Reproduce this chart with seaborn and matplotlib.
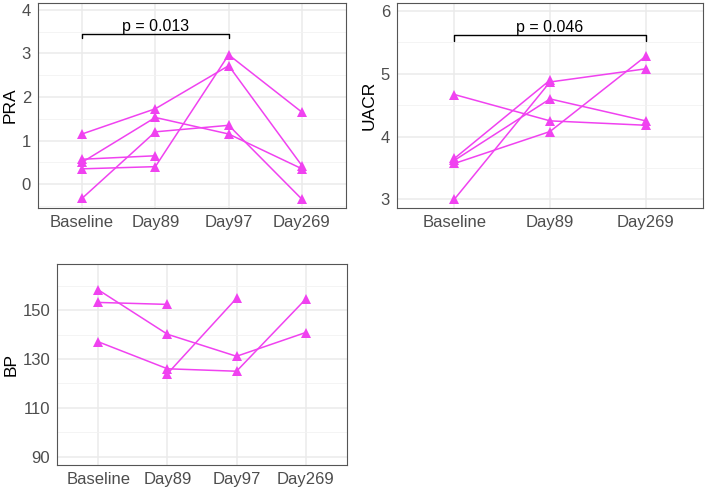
import numpy as np
import pandas as pd
import seaborn as sns
import matplotlib
matplotlib.use("Agg")
import matplotlib.pyplot as plt
from matplotlib.ticker import MultipleLocator

# ---- data ----
pra_times = ["Baseline", "Day89", "Day97", "Day269"]
pra_values = {
    "A": [1.15, 1.73, 2.72, 0.42],
    "B": [0.50, 1.53, 1.15, 0.35],
    "C": [0.35, 0.40, 2.97, 1.65],
    "D": [0.57, 0.65, np.nan, np.nan],
    "E": [-0.33, 1.20, 1.35, -0.35],
}
pra_p_label = "p = 0.013"
pra_p_pair = ("Baseline", "Day97")
pra_p_y = 3.45

uacr_times = ["Baseline", "Day89", "Day269"]
uacr_values = {
    "A": [4.67, 4.25, 4.18],
    "B": [3.00, 4.87, 5.08],
    "C": [3.65, 4.90, np.nan],
    "D": [3.62, 4.60, 4.25],
    "E": [3.57, 4.08, 5.28],
}
uacr_p_label = "p = 0.046"
uacr_p_pair = ("Baseline", "Day269")
uacr_p_y = 5.62

bp_times = ["Baseline", "Day89", "Day97", "Day269"]
bp_values = {
    "A": [153.1, 152.3, np.nan, np.nan],
    "B": [158.2, 140.1, 131.1, 140.8],
    "C": [137.0, 126.0, 125.0, 154.4],
    "D": [np.nan, 124.0, 154.8, np.nan],
}

COLOR = "#F042F0"


def to_long(times, values):
    rows = []
    for i, t in enumerate(times):
        for subj, vals in values.items():
            rows.append({"time": t, "subject": subj, "value": vals[i]})
    return pd.DataFrame(rows).dropna()


def style_axis(ax, ylabel, yticks, yminor, ylim, ncat):
    ax.set_xlim(-0.6, ncat - 1 + 0.6)
    ax.set_ylim(*ylim)
    ax.set_yticks(yticks)
    ax.yaxis.set_minor_locator(MultipleLocator(yminor))
    ax.set_xlabel("")
    ax.set_ylabel(ylabel, fontsize=12.5, color="black", labelpad=3)
    ax.set_facecolor("white")
    ax.grid(True, which="major", color="#EBEBEB", lw=1.1)
    ax.grid(True, which="minor", axis="y", color="#F2F2F2", lw=0.6)
    ax.set_axisbelow(True)
    for s in ax.spines.values():
        s.set_color("#555555")
        s.set_linewidth(0.8)
    ax.tick_params(axis="both", which="major", length=3, width=0.8, color="#333333",
                   labelsize=12, labelcolor="#4D4D4D", pad=2)
    ax.tick_params(axis="y", which="minor", length=0)
    if ax.get_legend():
        ax.get_legend().remove()


def bracket(ax, times, pair, y, label, drop):
    x0, x1 = times.index(pair[0]), times.index(pair[1])
    ax.plot([x0, x0, x1, x1], [y - drop, y, y, y - drop], color="black", lw=1.0)
    ax.text((x0 + x1) / 2, y, label, ha="center", va="bottom", fontsize=11.5, color="black")


def draw(ax, times, values):
    df = to_long(times, values)
    sns.lineplot(data=df, x="time", y="value", units="subject", estimator=None,
                 sort=False, color=COLOR, lw=1.1, marker="^", markersize=7.5,
                 markeredgewidth=0, markerfacecolor=COLOR, ax=ax, legend=False)


sns.set_theme(style="white")
plt.rcParams["font.family"] = ["Liberation Sans", "DejaVu Sans"]

fig = plt.figure(figsize=(7.09, 4.91), dpi=100)
W, H = 709, 491


def add_px(left, top, right, bottom):
    return fig.add_axes([left / W, 1 - bottom / H, (right - left) / W, (bottom - top) / H])


ax1 = add_px(38, 3, 346, 208)
draw(ax1, pra_times, pra_values)
style_axis(ax1, "PRA", [0, 1, 2, 3, 4], 0.5, (-0.55, 4.16), len(pra_times))
bracket(ax1, pra_times, pra_p_pair, pra_p_y, pra_p_label, 0.09)

ax2 = add_px(397, 3, 703, 208)
draw(ax2, uacr_times, uacr_values)
style_axis(ax2, "UACR", [3, 4, 5, 6], 0.5, (2.86, 6.13), len(uacr_times))
bracket(ax2, uacr_times, uacr_p_pair, uacr_p_y, uacr_p_label, 0.1)

ax3 = add_px(57, 264, 347, 465)
draw(ax3, bp_times, bp_values)
style_axis(ax3, "BP", [90, 110, 130, 150], 10, (86.7, 168.8), len(bp_times))

fig.savefig("out.png", dpi=100)
